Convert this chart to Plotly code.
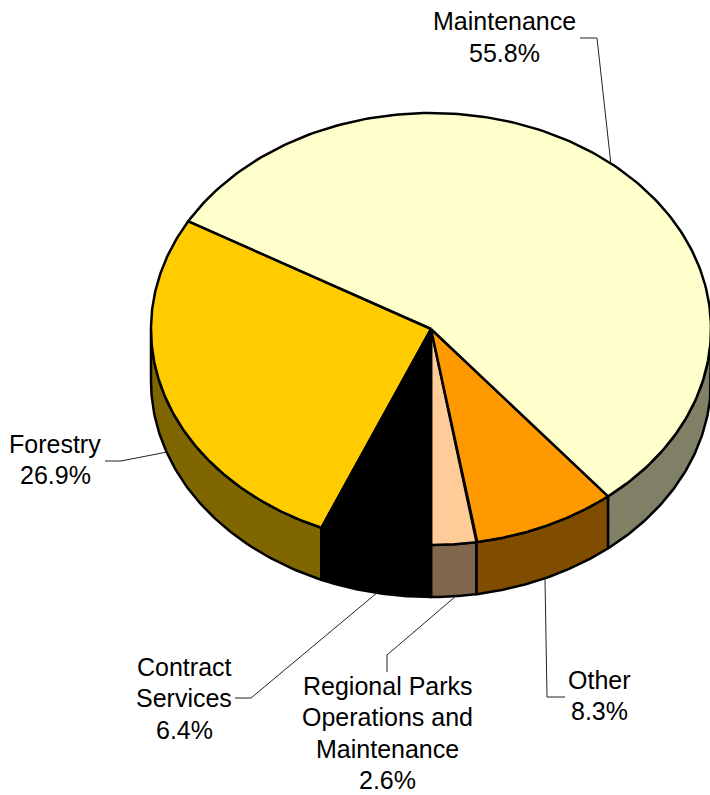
import numpy as np
import plotly.graph_objects as go

# ---- data ----
categories = ["Regional Parks Operations and Maintenance", "Other", "Maintenance", "Forestry", "Contract Services"]
values = [2.6, 8.3, 55.8, 26.9, 6.4]
top_colors = ["#FFCC99", "#FF9900", "#FFFFCC", "#FFCC00", "#000000"]
side_colors = ["#80664D", "#804D00", "#808066", "#806600", "#000000"]
label_texts = [["Regional Parks", "Operations and", "Maintenance", "2.6%"], ["Other", "8.3%"], ["Maintenance", "55.8%"],
               ["Forestry", "26.9%"], ["Contract", "Services", "6.4%"]]

# ---- geometry / layout ----
W, H = 710, 795
cx, cy, rx, ry, depth = 431, 329, 280, 216, 52
line_gap = 31.5
label_pos = [(387.5, 733), (599, 695.5), (504, 37), (55, 459.5), (184, 698)]
leaders = [
    [(456, 596), (387, 655), (387, 672)],
    [(545, 579), (547, 697), (565, 697)],
    [(611, 165), (597, 38), (580, 38)],
    [(167, 452), (121, 461), (105, 461)],
    [(378, 592), (251, 698), (235, 698)],
]


def ell(t, dy=0.0):
    return cx + rx * np.sin(t), cy + dy + ry * np.cos(t)


fig = go.Figure()
edges = np.cumsum([0] + values) / sum(values) * 2 * np.pi
front = [(0, np.pi / 2), (1.5 * np.pi, 2 * np.pi)]

# side walls
for i in range(len(values)):
    for f0, f1 in front:
        a0, a1 = max(edges[i], f0), min(edges[i + 1], f1)
        if a1 <= a0:
            continue
        t = np.linspace(a0, a1, 80)
        x0, y0 = ell(t)
        x1, y1 = ell(t[::-1], depth)
        fig.add_trace(go.Scatter(x=np.r_[x0, x1, x0[0]], y=np.r_[y0, y1, y0[0]], mode="lines", fill="toself",
                                 fillcolor=side_colors[i], line=dict(color="black", width=2.5),
                                 hoverinfo="skip", showlegend=False))
# top faces
for i in range(len(values)):
    t = np.linspace(edges[i], edges[i + 1], 200)
    x0, y0 = ell(t)
    fig.add_trace(go.Scatter(x=np.r_[cx, x0, cx], y=np.r_[cy, y0, cy], mode="lines", fill="toself",
                             fillcolor=top_colors[i], line=dict(color="black", width=2.5),
                             name=categories[i], hoverinfo="skip", showlegend=False))
# leader lines
for pts in leaders:
    fig.add_trace(go.Scatter(x=[p[0] for p in pts], y=[p[1] for p in pts], mode="lines",
                             line=dict(color="#222222", width=1), hoverinfo="skip", showlegend=False))
for lines, (lx, ly) in zip(label_texts, label_pos):
    for k, txt in enumerate(lines):
        fig.add_annotation(x=lx, y=ly + (k - (len(lines) - 1) / 2) * line_gap, text=txt, showarrow=False,
                           xanchor="center", yanchor="middle",
                           font=dict(family="Liberation Sans", size=25, color="black"))

fig.update_layout(width=W, height=H, margin=dict(l=0, r=0, t=0, b=0), paper_bgcolor="white", plot_bgcolor="white",
                  xaxis=dict(range=[0, W], visible=False, fixedrange=True),
                  yaxis=dict(range=[H, 0], visible=False, fixedrange=True))
fig.write_html("out.html", config={"displayModeBar": False},
               post_script="document.body.style.margin='0';document.documentElement.style.overflow='hidden';")
